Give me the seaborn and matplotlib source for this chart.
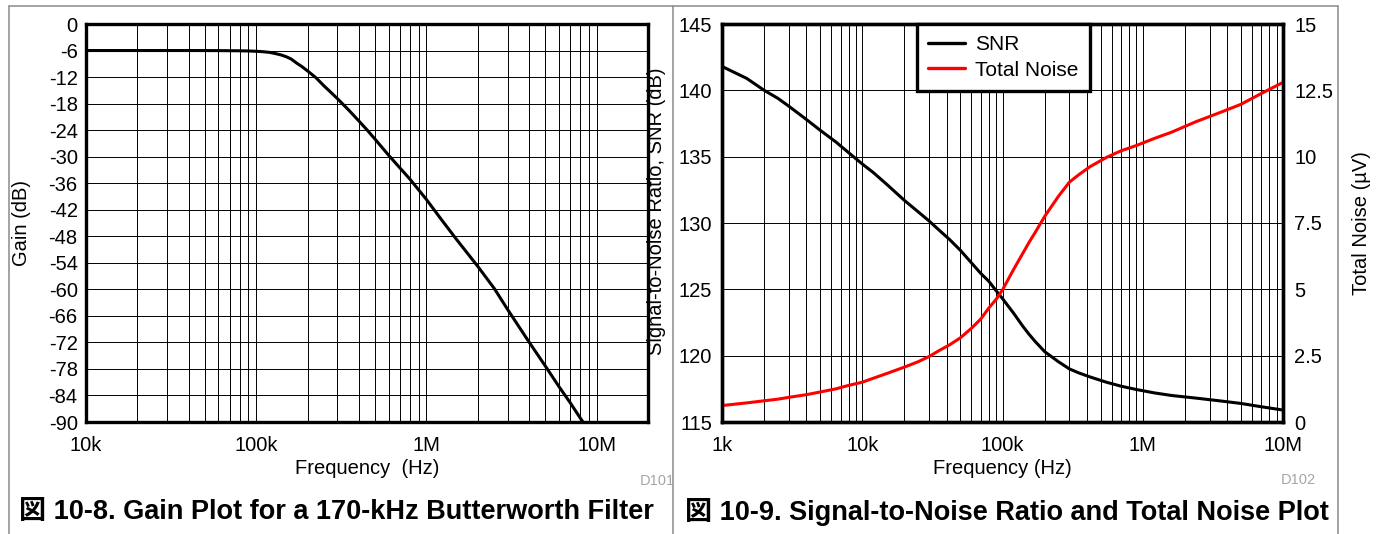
import numpy as np
import pandas as pd
import matplotlib
matplotlib.use("Agg")
import matplotlib.pyplot as plt
from matplotlib.lines import Line2D
from matplotlib.ticker import FixedLocator, FixedFormatter, NullFormatter
import seaborn as sns

# ---------------- data ----------------
gain_freq = [1e4, 2e4, 4e4, 6e4, 8e4, 9e4, 1e5, 1.1e5, 1.2e5, 1.3e5, 1.4e5, 1.5e5, 1.6e5,
             1.75e5, 1.85e5, 2e5, 2.25e5, 2.5e5, 2.7e5, 3e5, 3.5e5, 4e5, 4.5e5, 5e5, 6e5,
             7e5, 8e5, 1e6, 1.2e6, 1.5e6, 2e6, 2.5e6, 3e6, 4e6, 5e6, 6e6, 7e6, 8e6, 9e6]
gain_db = [-6.0, -6.0, -6.0, -6.02, -6.06, -6.1, -6.17, -6.27, -6.42, -6.7, -7.0, -7.4, -7.9,
           -9.0, -9.6, -10.6, -12.2, -14.0, -15.2, -16.9, -19.5, -21.9, -24.05, -26.1, -29.7,
           -32.6, -35.1, -39.7, -43.8, -48.7, -54.8, -59.8, -64.6, -71.9, -77.4, -82.0, -85.7,
           -89.1, -92.0]

snr_freq = [1e3, 1.5e3, 2e3, 2.5e3, 3e3, 4e3, 5e3, 6.5e3, 8e3, 1e4, 1.2e4, 1.5e4, 2e4, 2.5e4,
            3e4, 3.5e4, 4.2e4, 5e4, 6e4, 7e4, 8e4, 9e4, 1e5, 1.2e5, 1.4e5, 1.55e5, 1.7e5,
            2e5, 2.5e5, 3e5, 3.5e5, 4.2e5, 5.5e5, 7e5, 9e5, 1.2e6, 1.6e6, 2.4e6, 3.5e6, 5e6,
            7e6, 1e7]
snr_db = [141.8, 140.9, 140.0, 139.4, 138.8, 137.8, 137.0, 136.1, 135.3, 134.45, 133.8, 132.9,
          131.7, 130.85, 130.15, 129.5, 128.75, 127.95, 127.0, 126.2, 125.6, 124.9, 124.3, 123.2,
          122.2, 121.6, 121.1, 120.3, 119.55, 119.0, 118.7, 118.4, 118.0, 117.7, 117.45,
          117.2, 117.0, 116.8, 116.6, 116.4, 116.15, 115.9]
noise_uv = [0.62, 0.72, 0.80, 0.86, 0.93, 1.03, 1.13, 1.25, 1.38, 1.5, 1.65, 1.83, 2.07, 2.27,
            2.47, 2.68, 2.91, 3.17, 3.53, 3.88, 4.3, 4.62, 4.98, 5.75, 6.37, 6.78, 7.12, 7.75,
            8.5, 9.04, 9.32, 9.62, 9.97, 10.22, 10.42, 10.68, 10.92, 11.32, 11.65, 11.97,
            12.38, 12.8]

left_xticks = [1e4, 1e5, 1e6, 1e7]
left_xlabels = ["10k", "100k", "1M", "10M"]
left_yticks = list(range(-90, 1, 6))
right_xticks = [1e3, 1e4, 1e5, 1e6, 1e7]
right_xlabels = ["1k", "10k", "100k", "1M", "10M"]
snr_ticks = [115, 120, 125, 130, 135, 140, 145]
noise_ticks = [0, 2.5, 5, 7.5, 10, 12.5, 15]
noise_labels = ["0", "2.5", "5", "7.5", "10", "12.5", "15"]

# ---------------- style ----------------
sns.set_theme(style="white")
plt.rcParams["font.family"] = ["Liberation Sans", "DejaVu Sans"]
plt.rcParams["axes.unicode_minus"] = False
plt.rcParams["text.color"] = "black"
plt.rcParams["axes.labelcolor"] = "black"

W, H = 1379, 534
fig = plt.figure(figsize=(W / 100, H / 100), dpi=100)

def fx(px):
    return px / W

def fy(py):
    return 1 - py / H

FS = 14.5
SPINE = 2.4
GRID = 0.7

def minor_locs(lo, hi):
    locs = []
    for d in range(lo, hi):
        for m in range(2, 10):
            locs.append(m * 10 ** d)
    return locs

# ---------------- left panel ----------------
axL = fig.add_axes([fx(86), fy(422), fx(648 - 86), (422 - 24) / H])
df_gain = pd.DataFrame({"freq": gain_freq, "gain": gain_db})
sns.lineplot(data=df_gain, x="freq", y="gain", ax=axL, color="black", lw=2.2, sort=True)
axL.set_xscale("log")
axL.set_xlim(1e4, 2e7)
axL.set_ylim(-90, 0)
axL.xaxis.set_major_locator(FixedLocator(left_xticks))
axL.xaxis.set_major_formatter(FixedFormatter(left_xlabels))
axL.xaxis.set_minor_locator(FixedLocator(minor_locs(4, 8)))
axL.xaxis.set_minor_formatter(NullFormatter())
axL.set_yticks(left_yticks)
axL.set_yticklabels([str(v) for v in left_yticks])
axL.grid(which="both", color="black", lw=GRID)
axL.set_axisbelow(True)
axL.set_xlabel("Frequency  (Hz)", fontsize=FS, color="black")
axL.set_ylabel("Gain (dB)", fontsize=FS, color="black")
axL.xaxis.set_label_coords(0.5, -0.093)
axL.yaxis.set_label_coords(-0.098, 0.5)
axL.tick_params(axis="both", which="both", length=0, labelsize=FS, colors="black")
axL.tick_params(axis="x", pad=10)
axL.tick_params(axis="y", pad=6)
for s in axL.spines.values():
    s.set_visible(True)
    s.set_linewidth(SPINE)
    s.set_color("black")

# ---------------- right panel ----------------
axR = fig.add_axes([fx(722), fy(422), fx(1283 - 722), (422 - 24) / H])
df_r = pd.DataFrame({"freq": snr_freq, "snr": snr_db, "noise": noise_uv})
sns.lineplot(data=df_r, x="freq", y="snr", ax=axR, color="black", lw=2.2)
axR.set_xscale("log")
axR.set_xlim(1e3, 1e7)
axR.set_ylim(115, 145)
axR.xaxis.set_major_locator(FixedLocator(right_xticks))
axR.xaxis.set_major_formatter(FixedFormatter(right_xlabels))
axR.xaxis.set_minor_locator(FixedLocator(minor_locs(3, 7)))
axR.xaxis.set_minor_formatter(NullFormatter())
axR.set_yticks(snr_ticks)
axR.set_yticklabels([str(v) for v in snr_ticks])
axR.grid(which="both", color="black", lw=GRID)
axR.set_axisbelow(True)
axR.set_xlabel("Frequency (Hz)", fontsize=FS, color="black")
axR.set_ylabel("Signal-to-Noise Ratio, SNR (dB)", fontsize=FS, color="black")
axR.xaxis.set_label_coords(0.5, -0.093)
axR.yaxis.set_label_coords(-0.0998, 0.53)
axR.tick_params(axis="both", which="both", length=0, labelsize=FS, colors="black")
axR.tick_params(axis="x", pad=10)
axR.tick_params(axis="y", pad=7)

ax2 = axR.twinx()
sns.lineplot(data=df_r, x="freq", y="noise", ax=ax2, color="#ff0000", lw=2.2)
ax2.set_ylim(0, 15)
ax2.set_yticks(noise_ticks)
ax2.set_yticklabels(noise_labels)
ax2.set_ylabel("Total Noise (\u00b5V)", fontsize=FS, color="black")
ax2.yaxis.set_label_coords(1.123, 0.5)
ax2.tick_params(axis="y", length=0, labelsize=FS, colors="black", pad=8)
ax2.grid(False)
for a in (axR, ax2):
    for s in a.spines.values():
        s.set_visible(True)
        s.set_linewidth(SPINE)
        s.set_color("black")

handles = [Line2D([], [], color="black", lw=2.4), Line2D([], [], color="#ff0000", lw=2.4)]
leg = ax2.legend(handles, ["SNR", "Total Noise"], loc="upper left",
                 bbox_to_anchor=((917 - 722) / 561, 1.0), borderaxespad=0,
                 fontsize=15, frameon=True, fancybox=False, framealpha=1,
                 edgecolor="black", handlelength=1.75, handletextpad=0.5,
                 borderpad=0.55, labelspacing=0.3)
leg.get_frame().set_linewidth(SPINE)
for t in leg.get_texts():
    t.set_color("black")

# ---------------- frame, notes and captions ----------------
FRAME = "#8a8a8a"
for xs, ys in [([9, 9], [6, 540]), ([9, 1338], [6, 6]), ([673, 673], [6, 540]),
               ([1338, 1338], [6, 540])]:
    fig.add_artist(Line2D([fx(x) for x in xs], [fy(y) for y in ys], color=FRAME, lw=1.1))

fig.text(fx(675), fy(481), "D101", ha="right", va="center", fontsize=10.5, color="#a6a6a6")
fig.text(fx(1316), fy(480), "D102", ha="right", va="center", fontsize=10.5, color="#a6a6a6")

title_fam = ["Liberation Sans", "Noto Sans CJK JP"]
fig.text(fx(336), fy(512), "\u56f3 10-8. Gain Plot for a 170-kHz Butterworth Filter",
         ha="center", va="center", fontsize=19.5, fontweight="bold", family=title_fam,
         color="black")
fig.text(fx(1007), fy(512), "\u56f3 10-9. Signal-to-Noise Ratio and Total Noise Plot",
         ha="center", va="center", fontsize=19.5, fontweight="bold", family=title_fam,
         color="black")

fig.savefig("out.png", dpi=100)
